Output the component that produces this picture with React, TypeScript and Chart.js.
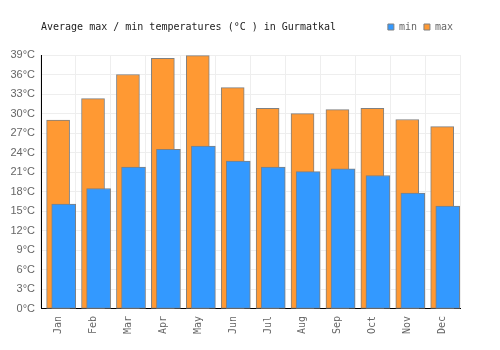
import React, { useEffect, useRef } from "react";
import { Chart, registerables } from "chart.js";

Chart.register(...registerables);

const months = ["Jan", "Feb", "Mar", "Apr", "May", "Jun", "Jul", "Aug", "Sep", "Oct", "Nov", "Dec"];
const minTemps = [16.1, 18.5, 21.8, 24.5, 25.0, 22.7, 21.8, 21.1, 21.5, 20.5, 17.8, 15.8];
const maxTemps = [29.0, 32.3, 36.0, 38.5, 38.9, 34.0, 30.8, 30.0, 30.6, 30.8, 29.1, 28.0];
const yTicksMax = 39;
const yStep = 3;

const mono = "'DejaVu Sans Mono', monospace";

export default function App() {
  const ref = useRef<HTMLCanvasElement | null>(null);
  useEffect(() => {
    if (!ref.current) return;
    const chart = new Chart(ref.current, {
      type: "bar",
      data: {
        labels: months,
        datasets: [
          {
            label: "min",
            data: minTemps.map((v, i) => ({ x: i, y: v })),
            xAxisID: "xb",
            backgroundColor: "#3399ff",
            borderColor: "#808080",
            borderWidth: 1,
            borderSkipped: false,
            barThickness: 24,
            grouped: false,
            order: 1,
          },
          {
            label: "max",
            data: maxTemps.map((v, i) => ({ x: i, y: v })),
            xAxisID: "xo",
            backgroundColor: "#ff9933",
            borderColor: "#808080",
            borderWidth: 1,
            borderSkipped: false,
            barThickness: 23,
            grouped: false,
            order: 2,
          },
        ],
      },
      options: {
        animation: false,
        responsive: true,
        maintainAspectRatio: false,
        layout: { padding: { top: 15, right: 40, bottom: 9, left: 0 } },
        plugins: {
          tooltip: { enabled: false },
          legend: {
            display: true,
            position: "top",
            align: "end",
            fullSize: false,
            weight: 3000,
            labels: {
              boxWidth: 6,
              boxHeight: 6,
              padding: 7,
              color: "#666",
              font: { family: mono, size: 10 },
            },
          },
          title: {
            display: true,
            text: "Average max / min temperatures (°C ) in Gurmatkal",
            position: "top",
            align: "start",
            fullSize: false,
            weight: 2000,
            color: "#222",
            font: { family: mono, size: 10, weight: "normal" },
            padding: { top: -21, bottom: 22 },
          },
        },
        scales: {
          x: {
            type: "category",
            offset: true,
            grid: { offset: true, color: "#eeeeee", drawTicks: false },
            border: { color: "#000", width: 1 },
            ticks: {
              minRotation: 90,
              maxRotation: 90,
              padding: 7,
              color: "#666",
              font: { family: mono, size: 10 },
            },
          },
          xo: {
            type: "linear",
            display: false,
            offset: false,
            min: -0.49,
            max: 11.51,
            ticks: { stepSize: 1 },
          },
          xb: {
            type: "linear",
            display: false,
            offset: false,
            min: -0.65,
            max: 11.35,
            ticks: { stepSize: 1 },
          },
          y: {
            min: 0,
            max: yTicksMax,
            afterFit: (s: any) => {
              s.width = 41;
            },
            grid: { color: "#eeeeee", drawTicks: false },
            border: { color: "#000", width: 1 },
            ticks: {
              stepSize: yStep,
              padding: 6,
              color: "#666",
              font: { family: "'Liberation Sans', Arial, sans-serif", size: 11 },
              callback: (v: any) => `${v}°C`,
            },
          },
        },
      },
    });
    return () => chart.destroy();
  }, []);
  return (
    <div style={{ position: "fixed", left: 0, top: 0, width: 500, height: 350, background: "#fff" }}>
      <canvas ref={ref} />
    </div>
  );
}
